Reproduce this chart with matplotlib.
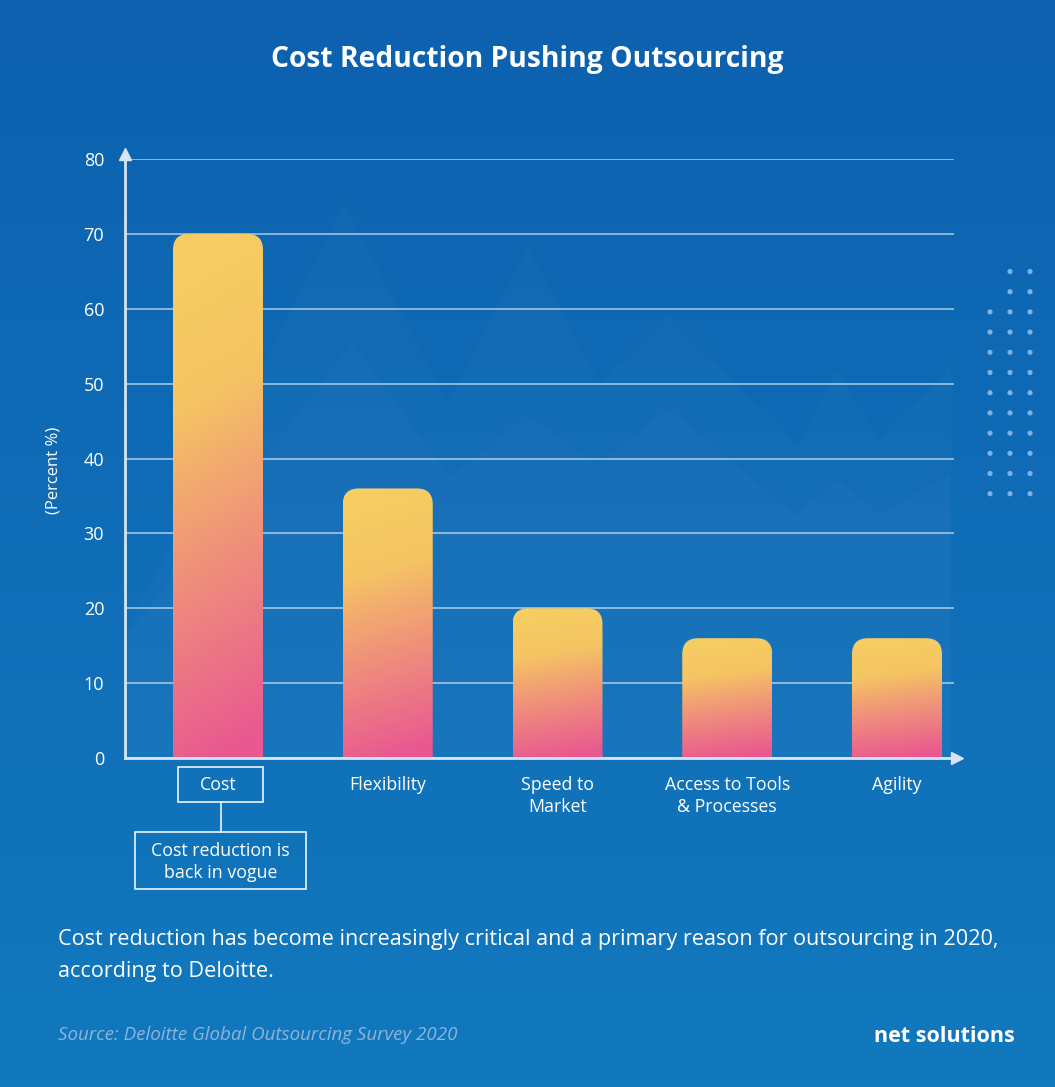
import numpy as np
import matplotlib
matplotlib.use("Agg")
import matplotlib.pyplot as plt
from matplotlib.patches import FancyBboxPatch, Rectangle, Polygon
from matplotlib.colors import LinearSegmentedColormap

# ---------------- data ----------------
categories = ["Cost", "Flexibility", "Speed to\nMarket", "Access to Tools\n& Processes", "Agility"]
values = [70, 36, 20, 16, 16]
yticks = [0, 10, 20, 30, 40, 50, 60, 70, 80]
title = "Cost Reduction Pushing Outsourcing"
ylabel = "(Percent %)"
callout = "Cost reduction is\nback in vogue"
note_lines = ["Cost reduction has become increasingly critical and a primary reason for outsourcing in 2020,",
              "according to Deloitte."]
source = "Source: Deloitte Global Outsourcing Survey 2020"
brand = "net solutions"

# ---------------- style ----------------
FONT = "Open Sans"
plt.rcParams['font.family'] = [FONT, 'DejaVu Sans']
W, H = 1055, 1087
fig = plt.figure(figsize=(W / 100, H / 100), dpi=100)

# background layer in pixel coordinates
bg = fig.add_axes([0, 0, 1, 1], zorder=-10)
bg.set_xlim(0, W); bg.set_ylim(H, 0); bg.axis('off')
bgcmap = LinearSegmentedColormap.from_list('bg', ['#0D61AF', '#1279BE'])
bg.imshow(np.linspace(0, 1, 256)[:, None], extent=[0, W, H, 0], cmap=bgcmap,
          aspect='auto', interpolation='bilinear')
# decorative mountains
back = [(125, 636), (344, 203), (447, 403), (528, 248), (600, 382), (668, 312), (797, 447),
        (837, 370), (879, 441), (951, 366), (951, 758), (125, 758)]
front = [(125, 640), (352, 343), (450, 478), (527, 415), (598, 465), (668, 408), (795, 515),
         (838, 480), (880, 515), (951, 473), (951, 758), (125, 758)]
for poly in (back, front):
    bg.add_patch(Polygon(poly, closed=True, facecolor='white', alpha=0.02, edgecolor='none'))
bg.set_xlim(0, W); bg.set_ylim(H, 0)

# dot grid decoration
dot_x, dot_y = [], []
for r in range(12):
    for c in range(3):
        if r < 2 and c == 0:
            continue
        dot_x.append(990 + 20 * c)
        dot_y.append(271.5 + 20.2 * r)
bg.scatter(dot_x, dot_y, s=14, color='#7DB3E2', edgecolors='none')

# ---------------- main axes ----------------
L, R, B, T = 125, 954, 758, 159
ax = fig.add_axes([L / W, 1 - B / H, (R - L) / W, (B - T) / H])
ax.set_facecolor('none')
c0, step = 218.0, 169.75
xlim = ((L - c0) / step, (R - c0) / step)
ylim = (0, 80)
x = np.arange(len(categories))
bw = 90 / step

px_per_x = step
px_per_y = (B - T) / (ylim[1] - ylim[0])
rad_px = 16
rx = rad_px / px_per_x
ry = rad_px / px_per_y

barcmap = LinearSegmentedColormap.from_list(
    'bar', [(0.0, '#E95990'), (0.3, '#EE8380'), (0.55, '#F2A870'), (0.72, '#F5C463'), (1.0, '#F6CD62')])

ny, nx = 300, 60
yy = np.linspace(1, 0, ny)[:, None]
xx = np.linspace(0, 1, nx)[None, :]
for xi, v in zip(x, values):
    x0 = xi - bw / 2
    patch = FancyBboxPatch((x0, -2 * ry), bw, v + 2 * ry,
                           boxstyle=f"round,pad=0,rounding_size={rx}",
                           mutation_aspect=ry / rx, facecolor='none', edgecolor='none')
    ax.add_patch(patch)
    Z = np.clip(yy * 1.02 + 0.10 * (0.5 - xx), 0, 1)
    im = ax.imshow(Z, extent=[x0, x0 + bw, 0, v], origin='upper', cmap=barcmap,
                   vmin=0, vmax=1, aspect='auto', interpolation='bilinear', zorder=3)
    im.set_clip_path(patch)

ax.set_xlim(*xlim)
ax.set_ylim(*ylim)
ax.set_yticks(yticks)
ax.grid(axis='y', color='white', alpha=0.6, lw=1.2)
ax.set_axisbelow(True)
ax.set_xticks(x)
ax.set_xticklabels(categories, color='white', fontsize=12.8, linespacing=1.3)
ax.tick_params(axis='x', length=0, pad=13)
ax.tick_params(axis='y', length=0, pad=15, labelsize=13, labelcolor='white')
for s in ('top', 'right'):
    ax.spines[s].set_visible(False)
axis_col = '#D6E4F4'
for s in ('left', 'bottom'):
    ax.spines[s].set_color(axis_col)
    ax.spines[s].set_linewidth(2)
    ax.spines[s].set_zorder(4)
ax.plot([0], [1.008], marker='^', color=axis_col, markersize=9, transform=ax.transAxes, clip_on=False)
ax.plot([1.004], [0], marker='>', color=axis_col, markersize=9, transform=ax.transAxes, clip_on=False)
ax.set_ylabel(ylabel, color='white', fontsize=12)
ax.yaxis.set_label_coords(-0.077, 0.481)

# ---------------- overlay (text / callouts) ----------------
ov = fig.add_axes([0, 0, 1, 1], zorder=10)
ov.set_xlim(0, W); ov.set_ylim(H, 0); ov.axis('off')
ov.text(527, 59, title, ha='center', va='center', fontsize=20.3, weight='bold', color='white')
ov.add_patch(Rectangle((178, 767), 85, 35, fill=False, edgecolor='white', lw=1.1))
ov.plot([221, 221], [802, 832], color='white', lw=1.1)
ov.add_patch(Rectangle((135, 832), 171, 57, fill=False, edgecolor='white', lw=1.1))
ov.text(220.5, 862, callout, ha='center', va='center', fontsize=12.8, color='white', linespacing=1.3)
ov.text(58, 940, note_lines[0], ha='left', va='center', fontsize=15.6, color='white')
ov.text(58, 971, note_lines[1], ha='left', va='center', fontsize=15.6, color='white')
ov.text(58, 1035, source, ha='left', va='center', fontsize=13.5, color='#8DB4DB', style='italic')
ov.text(1015, 1036, brand, ha='right', va='center', fontsize=15.5, weight='bold', color='white')

fig.savefig('out.png', dpi=100)
